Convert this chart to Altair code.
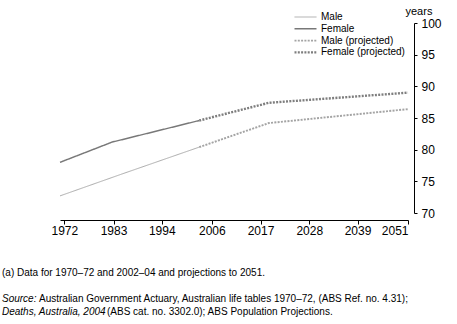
import altair as alt
import pandas as pd

# ---- data ----
series_names = ["Male", "Female", "Male (projected)", "Female (projected)"]
series_colors = ["#ababab", "#787878", "#a4a4a4", "#7e7e7e"]
series_widths = [1.0, 2.4, 1.4, 1.4]
series_dashes = [[1, 0], [1, 0], [2, 1.3], [2, 1.3]]

male_years = [1971, 1985, 2003]
male_values = [72.7, 76.1, 80.4]
female_years = [1971, 1983, 2003]
female_values = [78.0, 81.2, 84.6]
proj_years = [2003, 2019, 2051]
male_proj_values = [80.4, 84.2, 86.4]
female_proj_values = [84.6, 87.4, 89.0]

x_tick_values = [1972.0, 1983.3, 1994.4, 2005.9, 2017.1, 2028.3, 2039.4, 2051.0]
x_tick_labels = ["1972", "1983", "1994", "2006", "2017", "2028", "2039", "2051"]
y_tick_values = [70, 75, 80, 85, 90, 95, 100]

footnote_a = "(a) Data for 1970\u201372 and 2002\u201304 and projections to 2051."
source_1_italic = "Source:"
source_1_rest = "Australian Government Actuary, Australian life tables 1970\u201372, (ABS Ref. no. 4.31);"
source_2_italic = "Deaths, Australia, 2004"
source_2_rest = "(ABS cat. no. 3302.0); ABS Population Projections."

FONT = "Liberation Sans"

rows = []
for name, yrs, vals in [
    ("Male", male_years, male_values),
    ("Female", female_years, female_values),
    ("Male (projected)", proj_years, male_proj_values),
    ("Female (projected)", proj_years, female_proj_values),
]:
    for i, (yr, v) in enumerate(zip(yrs, vals)):
        rows.append({"series": name, "year": yr, "value": v, "ord": i})
df = pd.DataFrame(rows)

label_map = "{" + ",".join(f"'{v:.1f}':'{l}'" for v, l in zip(x_tick_values, x_tick_labels)) + "}"
label_expr = label_map + "[format(datum.value, '.1f')]"

leg = alt.Legend(
    title=None, orient="none", legendX=233, legendY=-11,
    symbolType="stroke", symbolSize=484, labelFontSize=10, labelFont=FONT,
    labelColor="black", labelOffset=3, clipHeight=10, rowPadding=1.8, padding=0,
)

lines = alt.Chart(df).mark_line(strokeCap="butt").encode(
    x=alt.X("year:Q",
            scale=alt.Scale(domain=[1971, 2051], nice=False, zero=False),
            axis=alt.Axis(values=x_tick_values, labelExpr=label_expr, offset=7,
                          tickSize=4, labelPadding=1, labelFontSize=12, title=None,
                          grid=False, domainColor="black", tickColor="black",
                          labelColor="black", labelFont=FONT)),
    y=alt.Y("value:Q",
            scale=alt.Scale(domain=[70, 100], nice=False, zero=False),
            axis=alt.Axis(orient="right", values=y_tick_values, offset=6, tickSize=3,
                          labelPadding=4, labelFontSize=12, labelFont=FONT,
                          labelColor="black", domainColor="black", tickColor="black",
                          grid=False, title="years", titleAngle=0, titleAlign="left",
                          titleBaseline="bottom", titleX=-9, titleY=-7,
                          titleFontSize=11, titleFontWeight="normal", titleFont=FONT,
                          titleColor="black")),
    color=alt.Color("series:N", scale=alt.Scale(domain=series_names, range=series_colors), legend=leg),
    strokeDash=alt.StrokeDash("series:N", scale=alt.Scale(domain=series_names, range=series_dashes), legend=leg),
    strokeWidth=alt.StrokeWidth("series:N", scale=alt.Scale(domain=series_names, range=series_widths), legend=leg),
    order="ord:Q",
)


def txt(s, x, y, italic=False):
    return alt.Chart(pd.DataFrame({"t": [s]})).mark_text(
        align="left", baseline="middle", fontSize=10, font=FONT, color="black",
        fontStyle="italic" if italic else "normal",
    ).encode(x=alt.value(x), y=alt.value(y), text="t:N")


chart = alt.layer(
    lines,
    txt(footnote_a, -58, 250),
    txt(source_1_italic, -58, 276, True),
    txt(source_1_rest, -21, 276),
    txt(source_2_italic, -58, 289, True),
    txt(source_2_rest, 47, 289),
).properties(
    width=348, height=190,
    padding={"left": 60, "top": 23, "right": 49, "bottom": 111},
    autosize=alt.AutoSizeParams(type="none"),
).configure(font=FONT).configure_view(stroke=None)

chart.save("out.html", embed_options={"renderer": "svg", "actions": False})
